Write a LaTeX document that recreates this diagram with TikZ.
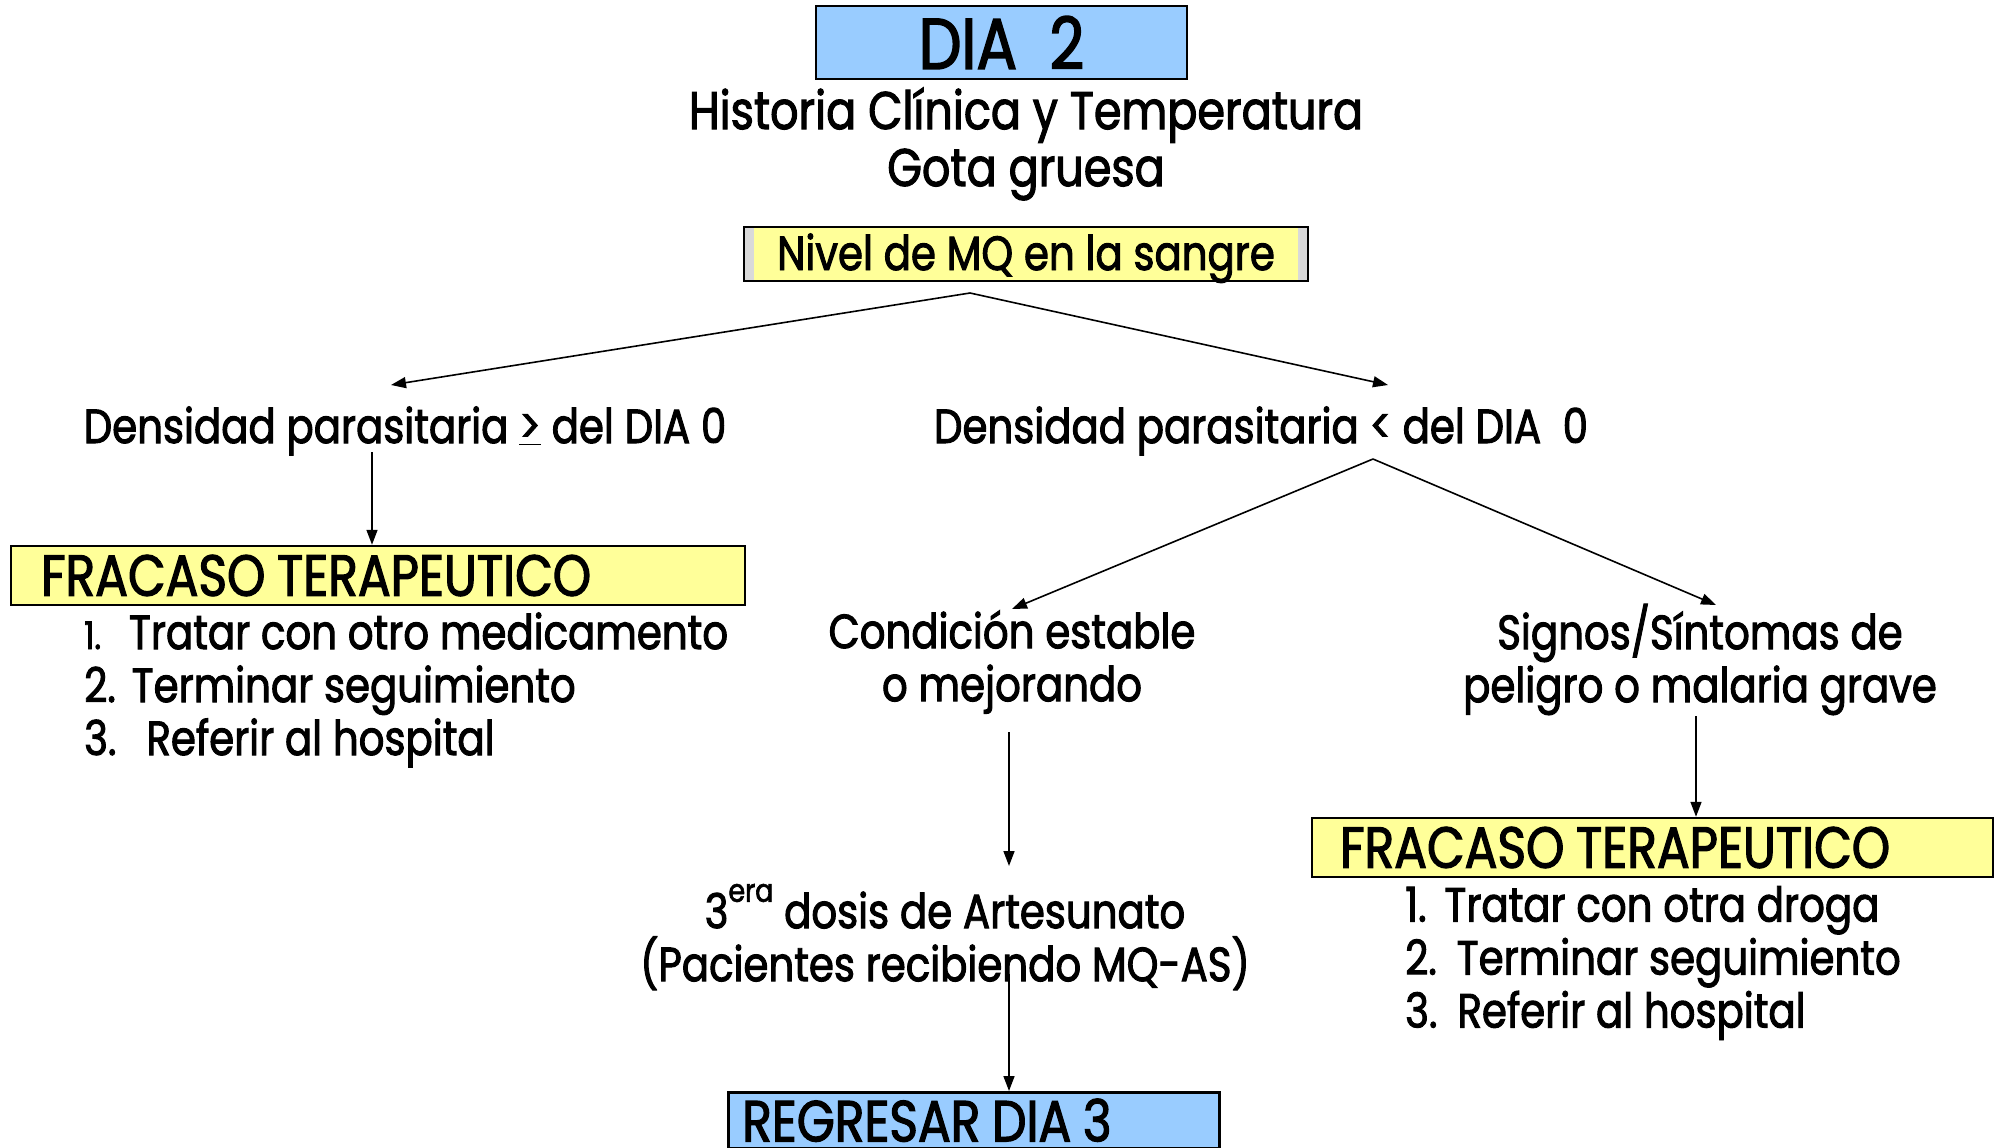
\documentclass[tikz,border=0pt]{standalone}
\usepackage{fontspec}
\setmainfont{Poppins}[FakeStretch=0.84, FakeBold=2]
\usetikzlibrary{positioning,arrows.meta}

\definecolor{diablue}{HTML}{99CCFF}
\definecolor{mqyellow}{HTML}{FFFF99}
\definecolor{mqgray}{HTML}{D9D9D9}

\newcommand{\capsp}{\hspace{0.2em}}

\tikzset{
  bluebox/.style={draw, line width=2.5pt, fill=diablue, inner sep=0pt},
  yellowbox/.style={draw, line width=2.5pt, fill=mqyellow, inner sep=0pt},
  txt/.style={inner sep=0pt, align=center, font=\fontsize{48}{53}\selectfont},
  bigtxt/.style={font=\fontsize{58}{62}\selectfont},
  arr/.style={-{Triangle[length=15pt,width=11pt]}, line width=1.6pt},
}

\begin{document}
\begin{tikzpicture}[x=1pt, y=-1pt]
  \useasboundingbox (0,0) rectangle (1997,1148);
  % Tell it where the nodes are
  \node (dia) [bluebox, minimum width=371pt, minimum height=73pt,
    font=\fontsize{72}{76}\selectfont] at (1001.5,42.5) {DIA\ \ 2};
  \node (hist) [txt, font=\fontsize{53}{57}\selectfont] at (1026,144)
    {Historia Clínica y Temperatura\\Gota gruesa};
  \node (nivel) [draw, line width=2pt, fill=mqgray, inner sep=0pt,
    minimum width=564pt, minimum height=54pt, txt,
    text height=40pt, text depth=8pt,
    path picture={\fill[mqyellow]
      ([xshift=10pt]path picture bounding box.south west) rectangle
      ([xshift=-10pt]path picture bounding box.north east);}]
    at (1026,254) {Nivel de MQ en la sangre};
  \node (densL) [txt] at (405,431) {Densidad parasitaria \underline{>} del DIA 0};
  \node (densR) [txt] at (1261,431) {Densidad parasitaria < del DIA\ \ 0};
  \node (fracL) [yellowbox, bigtxt, minimum height=59pt, inner xsep=30pt,
    text width=674pt, align=left] at (378,575.5) {FRACASO\capsp TERAPEUTICO};
  \node (listL) [txt, align=left, anchor=west] at (84,690)
    {{\fontsize{38}{53}\selectfont 1.}\hspace{28pt}Tratar con otro medicamento\\
     2.\hspace{16pt}Terminar seguimiento\\
     3.\hspace{30pt}Referir al hospital};
  \node (cond) [txt] at (1012,662) {Condición estable\\o mejorando};
  \node (signos) [txt] at (1700,659.5) {Signos/Síntomas de\\peligro o malaria grave};
  \node (dosis) [txt] at (945,937)
    {3\raisebox{0.55em}{\fontsize{32}{32}\selectfont era} dosis de Artesunato\\
     (Pacientes recibiendo MQ-AS)};
  \node (fracR) [yellowbox, bigtxt, minimum height=59pt, inner xsep=28pt,
    text width=625pt, align=left] at (1652.5,847.5) {FRACASO\capsp TERAPEUTICO};
  \node (listR) [txt, align=left, anchor=west] at (1405,963)
    {1.\hspace{18pt}Tratar con otra droga\\
     2.\hspace{20pt}Terminar seguimiento\\
     3.\hspace{20pt}Referir al hospital};
  \node (regresar) [bluebox, bigtxt, minimum height=56pt, inner xsep=14pt,
    text width=463pt, align=left, anchor=north west] at (727,1091)
    {REGRESAR\capsp DIA\capsp 3};
  % free ends of the connectors
  \coordinate (split) at (970,293);
  \coordinate (toL) at (391,385);
  \coordinate (toR) at (1388,385);
  \coordinate (fromR) at (1373,459);
  \coordinate (toCond) at (1012,609);
  \coordinate (toSig) at (1716,605);
  % Tell it what arrows to draw
  \draw[arr] (split) -- (toL);
  \draw[arr] (split) -- (toR);
  \draw[arr] (372,452) coordinate (dl) -- (dl |- fracL.north);
  \draw[arr] (fromR) -- (toCond);
  \draw[arr] (fromR) -- (toSig);
  \draw[arr] (1009,732) coordinate (cd) -- (1009,866) coordinate (dt);
  \draw[arr] (1696,716) coordinate (sg) -- (sg |- fracR.north);
  \draw[arr] (1009,974) coordinate (ds) -- (ds |- regresar.north);
\end{tikzpicture}
\end{document}
